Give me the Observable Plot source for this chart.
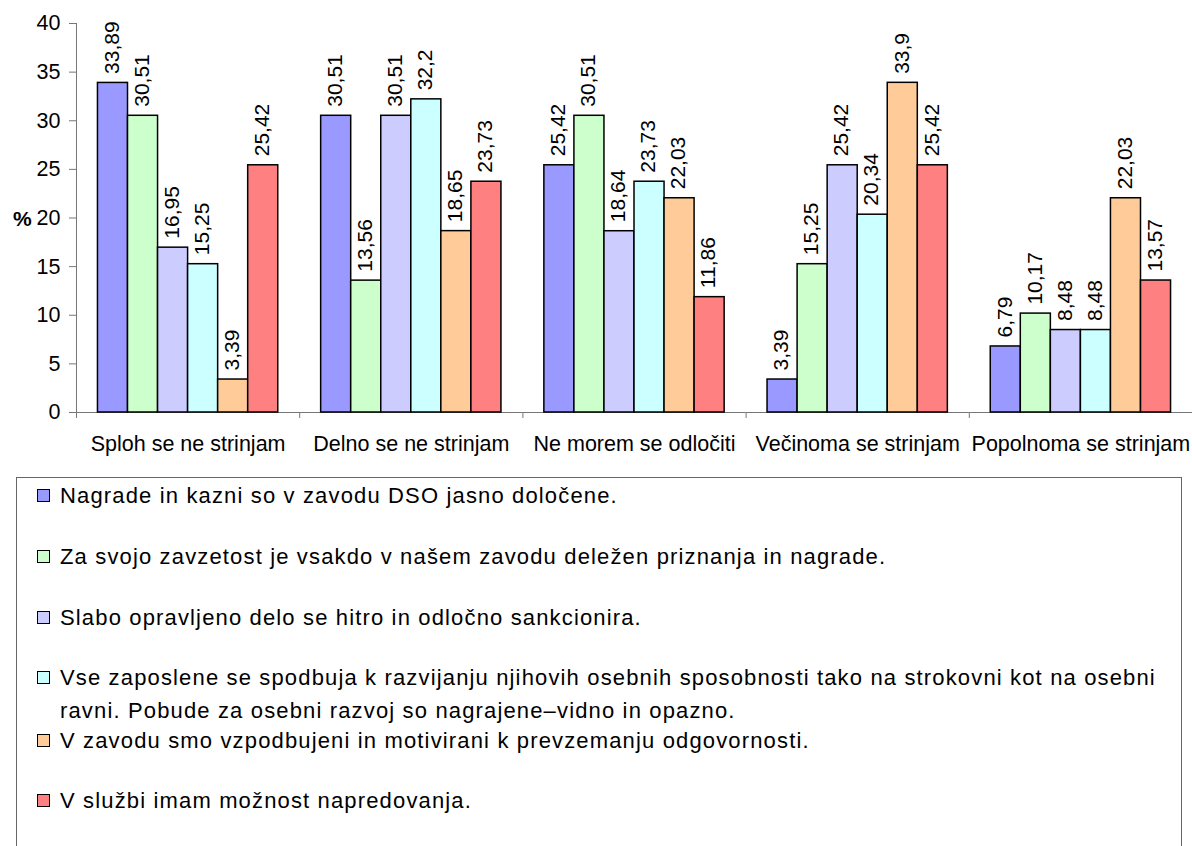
<!DOCTYPE html>
<html>
<head>
<meta charset="utf-8">
<script src="https://cdn.jsdelivr.net/npm/d3@7"></script>
<script src="https://cdn.jsdelivr.net/npm/@observablehq/plot@0.6"></script>
<style>
  body { margin: 0; background: #fff; width: 1192px; height: 846px; overflow: hidden; position: relative;
         font-family: "Liberation Sans", Arial, sans-serif; color: #000; }
  #chart { position: absolute; left: 0; top: 0; }
  #pct { position: absolute; left: 13px; top: 207px; font-size: 21px; line-height: 24px; font-weight: bold; }
  #legend { position: absolute; left: 16px; top: 477px; width: 1166px; height: 420px; border: 1px solid #666; box-sizing: border-box; }
  .item { position: absolute; left: 20px; font-size: 22px; line-height: 33px; letter-spacing: 1.15px; display: flex; align-items: flex-start; }
  .swatch { width: 11px; height: 11px; border: 1px solid #000; margin-top: 10px; margin-right: 10px; flex: none; }
  .label { white-space: pre-line; }
</style>
</head>
<body>
<div id="chart"></div>
<div id="pct">%</div>
<div id="legend"></div>
<script>
// Answer categories on the x axis
const categories = [
  "Sploh se ne strinjam",
  "Delno se ne strinjam",
  "Ne morem se odločiti",
  "Večinoma se strinjam",
  "Popolnoma se strinjam"
];

// Survey statements (one bar series each)
const statements = [
  "Nagrade in kazni so v zavodu DSO jasno določene.",
  "Za svojo zavzetost je vsakdo v našem zavodu deležen priznanja in nagrade.",
  "Slabo opravljeno delo se hitro in odločno sankcionira.",
  "Vse zaposlene se spodbuja k razvijanju njihovih osebnih sposobnosti tako na strokovni kot na osebni\nravni. Pobude za osebni razvoj so nagrajene–vidno in opazno.",
  "V zavodu smo vzpodbujeni in motivirani k prevzemanju odgovornosti.",
  "V službi imam možnost napredovanja."
];

const colors = ["#9999FF", "#CCFFCC", "#CCCCFF", "#CCFFFF", "#FFCC99", "#FF8080"];

// Percentages per category, one array per statement
const nagradeKazni   = [33.89, 30.51, 25.42, 3.39, 6.79];
const zavzetost      = [30.51, 13.56, 30.51, 15.25, 10.17];
const sankcije       = [16.95, 30.51, 18.64, 25.42, 8.48];
const osebniRazvoj   = [15.25, 32.2, 23.73, 20.34, 8.48];
const odgovornost    = [3.39, 18.65, 22.03, 33.9, 22.03];
const napredovanje   = [25.42, 23.73, 11.86, 25.42, 13.57];

const yTicks = [0, 5, 10, 15, 20, 25, 30, 35, 40];

const seriesValues = [nagradeKazni, zavzetost, sankcije, osebniRazvoj, odgovornost, napredovanje];
const rows = [];
statements.forEach((s, i) => {
  categories.forEach((c, j) => rows.push({cat: c, series: s, value: seriesValues[i][j]}));
});

const fmt = v => String(v).replace(".", ",");

const W = 1192, marginLeft = 76, marginRight = 0;
const step = (W - marginLeft - marginRight) / categories.length;

const chart = Plot.plot({
  width: W,
  height: 459,
  marginLeft,
  marginRight,
  marginTop: 23,
  marginBottom: 47,
  style: {fontFamily: "'Liberation Sans', Arial, sans-serif", fontSize: "21px", color: "#000", background: "#fff"},
  fx: {domain: categories, padding: 0, round: false},
  x: {domain: statements, paddingInner: 0, paddingOuter: 0.714, round: false, axis: null},
  y: {domain: [0, 40]},
  color: {domain: statements, range: colors},
  marks: [
    Plot.ruleY([0], {stroke: "#777", strokeWidth: 1}),
    // vertical axis line on the left edge of the first group
    Plot.gridFx({ticks: [categories[0]], dx: -step / 2, stroke: "#777", strokeOpacity: 1, strokeWidth: 1}),
    Plot.axisY({ticks: yTicks, tickSize: 7, tickPadding: 9, fontSize: 21.5, label: null, stroke: "#777", fill: "#000"}),
    Plot.axisFx({anchor: "bottom", tickSize: 0, tickPadding: 23, fontSize: 21.5, label: null, fill: "#000"}),
    // short tick marks at the boundaries between groups
    Plot.axisFx({anchor: "bottom", tickSize: 6, tickFormat: () => "", dx: -step / 2, label: null, stroke: "#777"}),
    Plot.barY(rows, {fx: "cat", x: "series", y: "value", fill: "series", stroke: "#000", strokeWidth: 1.5}),
    Plot.text(rows, {
      fx: "cat", x: "series", y: "value", text: d => fmt(d.value),
      rotate: -90, textAnchor: "start", lineAnchor: "middle", dy: -9, dx: -1,
      fontSize: 21, fill: "#000"
    })
  ]
});
document.getElementById("chart").appendChild(chart);

// Legend box below the chart
const rowCenters = [17, 78, 139, 199, 262, 322];
const legend = document.getElementById("legend");
statements.forEach((s, i) => {
  const item = document.createElement("div");
  item.className = "item";
  item.style.top = (rowCenters[i] - 16.5) + "px";
  const sw = document.createElement("div");
  sw.className = "swatch";
  sw.style.background = colors[i];
  const lab = document.createElement("div");
  lab.className = "label";
  lab.textContent = s;
  item.appendChild(sw);
  item.appendChild(lab);
  legend.appendChild(item);
});
</script>
</body>
</html>
